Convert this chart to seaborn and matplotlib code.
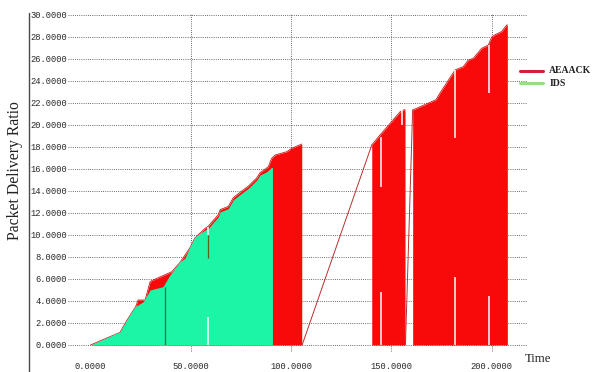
import numpy as np
import pandas as pd
import matplotlib
matplotlib.use("Agg")
import matplotlib.pyplot as plt
from matplotlib.lines import Line2D
import seaborn as sns

# ---- data -------------------------------------------------------------
# AEAACK packet delivery ratio, three continuous stretches of the run
aeaack_time_1 = [0.0, 14.7, 18.0, 22.2, 22.5, 23.7, 27.2, 29.7, 30.5, 40.5, 44.6,
                 49.6, 52.1, 57.1, 58.7, 63.7, 64.6, 68.7, 71.2, 75.4, 78.7,
                 82.9, 84.5, 88.6, 90.3, 92.0, 97.8, 100.3, 105.3]
aeaack_ratio_1 = [0.0, 1.15, 2.2, 3.4, 3.48, 4.09, 4.09, 5.75, 5.85, 6.66, 7.5,
                  8.85, 9.75, 10.6, 10.8, 11.85, 12.3, 12.6, 13.4, 14.0, 14.45,
                  15.2, 15.66, 16.2, 16.97, 17.27, 17.57, 17.88, 18.27]
aeaack_time_2 = [140.2, 144.3, 154.3, 155.9, 156.8]
aeaack_ratio_2 = [18.18, 19.09, 21.2, 21.36, 21.4]
aeaack_time_3 = [160.6, 172.2, 174.2, 181.7, 185.8, 188.3, 190.8, 194.2, 195.0,
                 198.3, 200.0, 201.6, 205.0, 207.5, 207.8]
aeaack_ratio_3 = [21.36, 22.3, 22.9, 25.0, 25.3, 25.9, 26.06, 26.8, 26.97,
                  27.27, 28.0, 28.2, 28.5, 29.1, 29.1]

# AEAACK jumps between the stretches (time, ratio pairs)
jump_time = [105.3, 140.2, 105.5, 140.2, 157.0, 160.6]
jump_ratio = [0.0, 0.0, 0.0, 18.18, 0.0, 21.36]
jump_id = [0, 0, 1, 1, 2, 2]

# IDS packet delivery ratio
ids_time = [0.0, 14.7, 18.0, 22.2, 26.3, 29.7, 36.1, 39.6, 44.6, 47.1, 49.6,
            52.1, 57.1, 58.7, 63.7, 64.6, 68.7, 71.2, 75.4, 78.7, 82.9, 84.5,
            87.8, 90.3, 90.7]
ids_ratio = [0.0, 1.21, 2.27, 3.48, 3.94, 5.0, 5.3, 6.36, 7.57, 7.9, 8.94,
             9.85, 10.45, 10.6, 11.66, 12.1, 12.4, 13.2, 13.8, 14.25, 15.0,
             15.45, 15.75, 16.15, 16.15]

# drop-outs in the trace: time, lower and upper ratio of the gap
gap_time = [58.8, 58.8, 144.7, 144.7, 155.1, 181.7, 181.7, 198.8, 198.8]
gap_low = [0.0, 10.0, 0.0, 14.4, 20.0, 0.0, 18.8, 0.0, 22.9]
gap_high = [2.57, 10.7, 4.85, 18.9, 21.4, 6.2, 25.0, 4.5, 27.3]

# IDS single-sample spikes: time, lower and upper ratio
spike_time = [37.1, 58.8]
spike_low = [0.0, 7.9]
spike_high = [5.3, 10.0]

y_ticks = list(range(0, 31, 2))
x_ticks = [0, 50, 100, 150, 200]

RED = "#F80A0A"
GREEN = "#1CF5A5"

# ---- figure -----------------------------------------------------------
sns.set_theme(style="white")
plt.rcParams["font.family"] = ["Liberation Serif", "DejaVu Serif"]

W, H = 597, 372
fig = plt.figure(figsize=(W / 100, H / 100), dpi=100)
fig.patch.set_facecolor("white")
ax = fig.add_axes([68 / W, (H - 345) / H, (526 - 68) / W, (345 - 15) / H])
ax.set_facecolor("white")
ax.set_xlim(-11.22, 217.1)
ax.set_ylim(0, 30)
for s in ax.spines.values():
    s.set_visible(False)

grid_kw = dict(color="#3a3a3a", linewidth=0.6, linestyle=(0, (1, 1.6)))
ax.hlines(y_ticks, -11.22, 217.1, clip_on=False, zorder=1, **grid_kw)
ax.vlines(x_ticks[1:], -0.55, 30.15, clip_on=False, zorder=1, **grid_kw)

# AEAACK filled areas
red_segments = [(aeaack_time_1, aeaack_ratio_1),
                (aeaack_time_2, aeaack_ratio_2),
                (aeaack_time_3, aeaack_ratio_3)]
for t, r in red_segments:
    ax.fill_between(t, 0, r, color=RED, linewidth=0, zorder=2)
    sns.lineplot(x=t, y=r, color="#C81818", linewidth=0.6, ax=ax,
                 estimator=None, sort=False, legend=False, zorder=2)

# IDS filled area on top
ax.fill_between(ids_time, 0, ids_ratio, color=GREEN, linewidth=0, zorder=3)

# jumps of the AEAACK trace between stretches
jumps = pd.DataFrame({"time": jump_time, "ratio": jump_ratio, "seg": jump_id})
sns.lineplot(data=jumps, x="time", y="ratio", units="seg", estimator=None,
             sort=False, color="#B83030", linewidth=0.7, ax=ax, legend=False,
             zorder=4)

# drop-outs and spikes
ax.vlines(gap_time, gap_low, gap_high, color="white", linewidth=1.1, zorder=5)
ax.vlines(spike_time, spike_low, spike_high, color="#5A6418", linewidth=0.9,
          zorder=5)

# ticks
mono = ["Liberation Mono", "DejaVu Sans Mono"]
ax.set_xlabel("")
ax.set_ylabel("")
ax.set_yticks(y_ticks)
ax.set_yticklabels([f"{v:.4f}" for v in y_ticks], family=mono, fontsize=6.3,
                   color="#2a2a2a")
ax.set_xticks(x_ticks)
ax.set_xticklabels([f"{v:.4f}" for v in x_ticks], family=mono, fontsize=6.3,
                   color="#2a2a2a")
ax.tick_params(axis="y", length=0, pad=0.5)
ax.tick_params(axis="x", length=0, pad=12)

# left frame line
fig.add_artist(Line2D([29 / W, 29 / W], [0, (H - 13) / H], color="#4a4a4a",
                      linewidth=1.0, transform=fig.transFigure))

# axis titles
fig.text(15 / W, 1 - 171 / H, "Packet Delivery Ratio", rotation=90,
         ha="center", va="center", fontsize=11.3, color="#222222")
fig.text(525 / W, 1 - 359 / H, "Time", ha="left", va="center", fontsize=9.2,
         color="#222222")

# legend
legend_rows = [("AEAACK", "#D42030", 70.7), ("IDS", "#9CD98A", 83.3)]
for label, col, yp in legend_rows:
    fig.add_artist(Line2D([520 / W, 543.3 / W], [1 - yp / H, 1 - yp / H],
                          color=col, linewidth=2.2,
                          transform=fig.transFigure))
    fig.text(549.3 / W, 1 - yp / H, label, ha="left", va="center",
             fontsize=7, fontweight="bold", color="#222222")

fig.savefig("out.png", dpi=100, facecolor="white")
